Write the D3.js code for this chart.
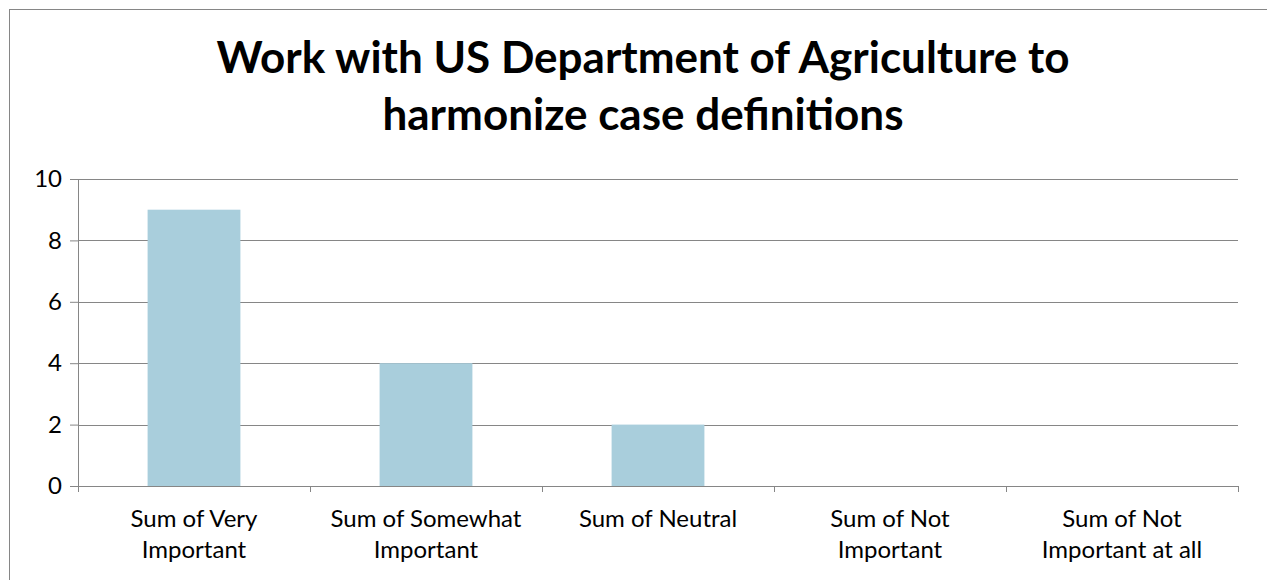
<!DOCTYPE html>
<html>
<head>
<meta charset="utf-8">
<script src="https://cdn.jsdelivr.net/npm/d3@7"></script>
<style>
  body { margin: 0; background: #fff; }
  text { font-family: Lato, "Open Sans", sans-serif; fill: #000; }
</style>
</head>
<body>
<div id="chart"></div>
<script>
// Datos
const titleLines = ["Work with US Department of Agriculture to", "harmonize case definitions"];
const categories = [
  ["Sum of Very", "Important"],
  ["Sum of Somewhat", "Important"],
  ["Sum of Neutral"],
  ["Sum of Not", "Important"],
  ["Sum of Not", "Important at all"]
];
const values = [9, 4, 2, 0, 0];
const yTicks = [0, 2, 4, 6, 8, 10];

const width = 1267;
const height = 580;
const margin = { top: 179, right: 29, bottom: 94, left: 78 };

const svg = d3.select("#chart")
  .append("svg")
  .attr("width", width)
  .attr("height", height);

// Borde del gráfico
svg.append("rect")
  .attr("x", 9.5)
  .attr("y", 9.5)
  .attr("width", width + 20)
  .attr("height", height + 20)
  .attr("fill", "#fff")
  .attr("stroke", "#868686")
  .attr("stroke-width", 1);

// Título
svg.append("text")
  .attr("text-anchor", "middle")
  .style("font-size", "44px")
  .style("font-weight", "bold")
  .selectAll("tspan")
  .data(titleLines)
  .enter()
  .append("tspan")
  .attr("x", 643)
  .attr("y", (d, i) => 73 + i * 57)
  .text((d) => d);

const x = d3.scaleBand()
  .domain(d3.range(categories.length))
  .range([margin.left, width - margin.right])
  .paddingInner(0.6)
  .paddingOuter(0.3);

const xOuter = d3.scaleBand()
  .domain(d3.range(categories.length))
  .range([margin.left, width - margin.right]);

const y = d3.scaleLinear()
  .domain([0, 10])
  .range([height - margin.bottom, margin.top]);

// Eje Y y cuadrícula
const yAxis = svg.append("g")
  .attr("transform", `translate(${margin.left},0)`)
  .call(d3.axisLeft(y).tickValues(yTicks).tickSize(8).tickPadding(8));
yAxis.select(".domain").attr("stroke", "#868686");
yAxis.selectAll(".tick line").attr("stroke", "#868686");
yAxis.selectAll(".tick text")
  .style("font-size", "24px")
  .attr("font-family", null)
  .attr("fill", "#000");

svg.append("g")
  .selectAll("line")
  .data(yTicks.filter((d) => d > 0))
  .enter()
  .append("line")
  .attr("x1", margin.left)
  .attr("x2", width - margin.right)
  .attr("y1", (d) => Math.round(y(d)) + 0.5)
  .attr("y2", (d) => Math.round(y(d)) + 0.5)
  .attr("stroke", "#868686");

// Barras
svg.append("g")
  .selectAll("rect")
  .data(values)
  .enter()
  .append("rect")
  .attr("x", (d, i) => x(i))
  .attr("y", (d) => y(d))
  .attr("width", x.bandwidth())
  .attr("height", (d) => y(0) - y(d))
  .attr("fill", "#A9CEDC");

// Eje X
const xAxisG = svg.append("g").attr("transform", `translate(0,${y(0)})`);
xAxisG.append("line")
  .attr("x1", margin.left)
  .attr("x2", width - margin.right)
  .attr("y1", 0.5)
  .attr("y2", 0.5)
  .attr("stroke", "#868686");
xAxisG.selectAll(".xtick")
  .data(d3.range(categories.length + 1))
  .enter()
  .append("line")
  .attr("x1", (d) => Math.round(margin.left + d * xOuter.bandwidth()) + 0.5)
  .attr("x2", (d) => Math.round(margin.left + d * xOuter.bandwidth()) + 0.5)
  .attr("y1", 0)
  .attr("y2", 6)
  .attr("stroke", "#868686");

xAxisG.selectAll(".xlabel")
  .data(categories)
  .enter()
  .append("text")
  .attr("text-anchor", "middle")
  .style("font-size", "24px")
  .each(function (d, i) {
    d3.select(this)
      .selectAll("tspan")
      .data(d)
      .enter()
      .append("tspan")
      .attr("x", xOuter(i) + xOuter.bandwidth() / 2)
      .attr("y", (t, j) => 41 + j * 31)
      .text((t) => t);
  });
</script>
</body>
</html>
